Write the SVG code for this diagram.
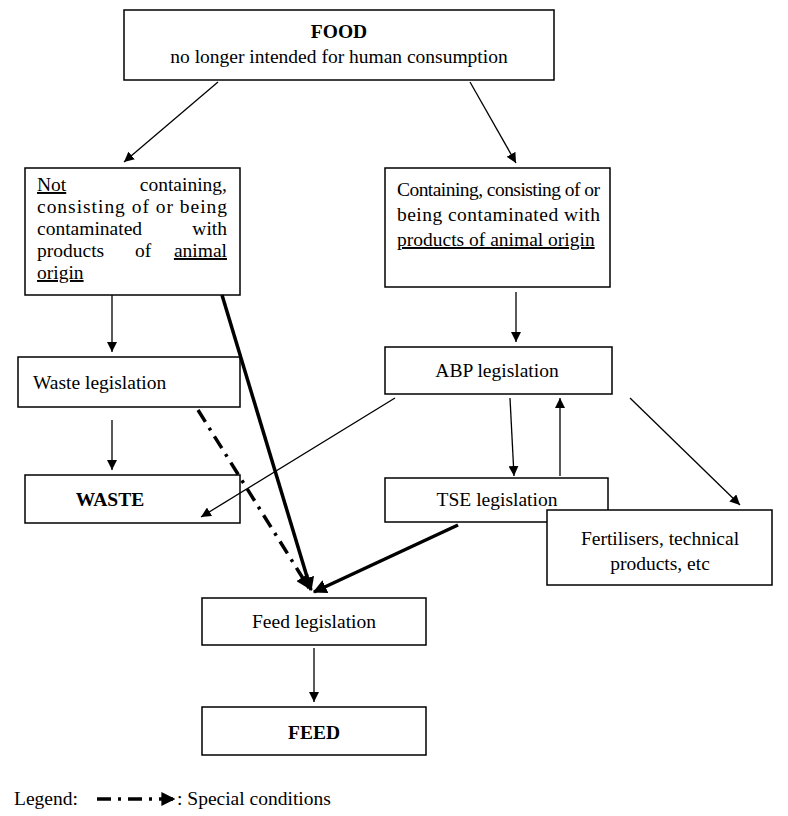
<svg xmlns="http://www.w3.org/2000/svg" width="788" height="816" viewBox="0 0 788 816">
<style>
rect{fill:#fff;stroke:#000;stroke-width:1.5}
text{font-family:"Liberation Serif",serif;font-size:19.5px;fill:#000}
.b{font-weight:bold}
.c{text-anchor:middle}
.u{text-decoration:underline}
.l{stroke:#000;stroke-width:1.3;fill:none}
.t{stroke:#000;stroke-width:3.5;fill:none}
.d{stroke:#000;stroke-width:3.5;fill:none;stroke-dasharray:14 7 3 7}
</style>
<defs>
<marker id="a" viewBox="0 0 10 10" refX="10" refY="5" markerWidth="10" markerHeight="10" markerUnits="userSpaceOnUse" orient="auto"><path d="M0,0L10,5L0,10z"/></marker>
<marker id="A" viewBox="0 0 10 10" refX="9" refY="5" markerWidth="4" markerHeight="4" orient="auto"><path d="M0,0L10,5L0,10z"/></marker>
</defs>
<g id="food"><rect x="124" y="10" width="430" height="70"/><text class="b c" x="339" y="38">FOOD</text><text class="c" x="339" y="63">no longer intended for human consumption</text></g>
<g id="notanimal"><rect x="25" y="168" width="215" height="127"/>
<text x="37" y="191" class="u">Not</text><text x="227" y="191" text-anchor="end">containing,</text>
<text x="37" y="213" textLength="190" lengthAdjust="spacing">consisting of or being</text>
<text x="37" y="235">contaminated</text><text x="227" y="235" text-anchor="end">with</text>
<text x="37" y="257">products</text><text x="143" y="257" class="c">of</text><text x="227" y="257" text-anchor="end" class="u">animal</text>
<text x="37" y="279" class="u">origin</text></g>
<g id="animal"><rect x="385" y="168" width="225" height="119"/>
<text x="397" y="196" textLength="203" lengthAdjust="spacing">Containing, consisting of or</text>
<text x="397" y="221" textLength="203" lengthAdjust="spacing">being contaminated with</text>
<text x="397" y="246" class="u">products of animal origin</text></g>
<g id="wastelegis"><rect x="18" y="357" width="222" height="50"/><text x="33" y="389">Waste legislation</text></g>
<g id="abp"><rect x="385" y="347" width="227" height="47"/><text class="c" x="497" y="377">ABP legislation</text></g>
<g id="waste"><rect x="25" y="475" width="215" height="48"/><text class="b c" x="110" y="506">WASTE</text></g>
<g id="tse"><rect x="385" y="478" width="223" height="44"/><text class="c" x="497" y="506">TSE legislation</text></g>
<g id="fert"><rect x="547" y="510" width="225" height="75"/><text class="c" x="660" y="545">Fertilisers, technical</text><text class="c" x="660" y="570">products, etc</text></g>
<g id="feedlegis"><rect x="202" y="598" width="224" height="47"/><text class="c" x="314" y="628">Feed legislation</text></g>
<g id="feed"><rect x="202" y="707" width="224" height="48"/><text class="b c" x="314" y="739">FEED</text></g>
<g id="connectors">
<path class="l" marker-end="url(#a)" d="M218,82L124,162"/>
<path class="l" marker-end="url(#a)" d="M470,82L516,163"/>
<path class="l" marker-end="url(#a)" d="M112,295V352"/>
<path class="t" marker-end="url(#A)" d="M222,295L311,590"/>
<path class="d" marker-end="url(#A)" d="M198,410L309,588"/>
<path class="l" marker-end="url(#a)" d="M516,292V342"/>
<path class="l" marker-end="url(#a)" d="M395,398L201,517"/>
<path class="l" marker-end="url(#a)" d="M112,420V470"/>
<path class="l" marker-end="url(#a)" d="M510,398L514,476"/>
<path class="l" marker-end="url(#a)" d="M560,476V398"/>
<path class="l" marker-end="url(#a)" d="M630,398L740,505"/>
<path class="t" marker-end="url(#A)" d="M458,525L314,592"/>
<path class="l" marker-end="url(#a)" d="M314,648V702"/>
</g>
<g id="legend"><text x="14" y="805">Legend:</text><path class="d" marker-end="url(#A)" d="M97,799H174"/><text x="177" y="805">: Special conditions</text></g>
</svg>
